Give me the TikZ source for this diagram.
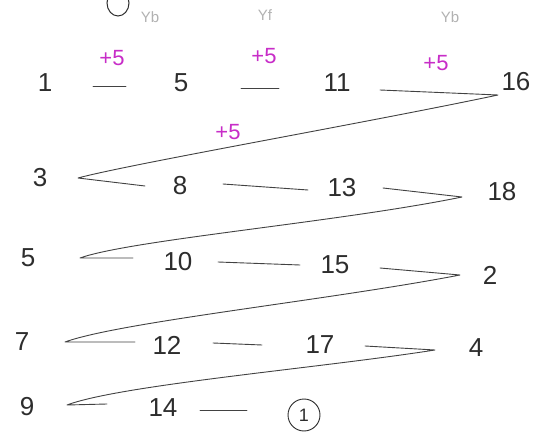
\documentclass[tikz,border=0pt]{standalone}
\usepackage{fontspec}
\setmainfont{Liberation Sans}
\definecolor{ink}{RGB}{45,45,45}
\definecolor{mag}{RGB}{200,45,200}
\begin{document}
\begin{tikzpicture}[x=1pt,y=-1pt,
  num/.style={font=\fontsize{26}{26}\selectfont, text=ink, inner sep=0pt},
  plus/.style={font=\fontsize{22}{22}\selectfont, text=mag, inner sep=0pt},
  faint/.style={font=\fontsize{15}{15}\selectfont, text=black!30, inner sep=0pt},
  link/.style={draw=ink!90, line width=0.9pt, line cap=round, line join=round},
  ring/.style={circle, draw=ink, line width=0.9pt, minimum size=32pt, inner sep=0pt, font=\fontsize{18}{18}\selectfont, text=ink}]
\useasboundingbox (0,0) rectangle (547,433);
\fill[white] (0,0) rectangle (547,433);
\clip (0,0) rectangle (547,433);
% partial letter at the top
\draw[ink, line width=1pt] (118,3) ellipse (11 and 13);
% faint labels
\node[faint] (yb1) at (150,17) {Yb};
\node[faint] (yf)  at (265,15) {Yf};
\node[faint] (yb2) at (450,17) {Yb};
% plus labels
\node[plus] (p1) at (112,58) {+5};
\node[plus] (p2) at (264,56) {+5};
\node[plus] (p3) at (436,63) {+5};
\node[plus] (p4) at (228,132) {+5};
% numbers
\node[num] (n1)  at (45,83)  {1};
\node[num] (n6)  at (181,83) {5};
\node[num] (n11) at (337,83) {11};
\node[num] (n16) at (516,82) {16};
\node[num] (n3)  at (40,178) {3};
\node[num] (n8)  at (180,186) {8};
\node[num] (n13) at (342,188) {13};
\node[num] (n18) at (502,192) {18};
\node[num] (n5)  at (28,258) {5};
\node[num] (n10) at (178,262) {10};
\node[num] (n15) at (335,265) {15};
\node[num] (n2)  at (490,275) {2};
\node[num] (n7)  at (22,342) {7};
\node[num] (n12) at (167,345) {12};
\node[num] (n17) at (320,345) {17};
\node[num] (n4)  at (476,348) {4};
\node[num] (n9)  at (27,407) {9};
\node[num] (n14) at (163,408) {14};
\node[ring] (c1) at (304,415) {1};
% line end points
\coordinate (a1) at (93,86);   \coordinate (b1) at (126,86);
\coordinate (a2) at (241,88);  \coordinate (b2) at (279,88);
\coordinate (a3) at (380,90);  \coordinate (v1) at (498,95);
\coordinate (w1) at (78,178);  \coordinate (b4) at (145,186);
\coordinate (a5) at (223,184); \coordinate (b5) at (308,190);
\coordinate (a6) at (383,188); \coordinate (v2) at (462,197);
\coordinate (w2) at (80,258);  \coordinate (b7) at (133,258);
\coordinate (a8) at (218,262); \coordinate (b8) at (300,265);
\coordinate (a9) at (380,268); \coordinate (v3) at (460,275);
\coordinate (w3) at (65,342);  \coordinate (b10) at (135,342);
\coordinate (a11) at (213,343); \coordinate (b11) at (262,345);
\coordinate (a12) at (365,346); \coordinate (v4) at (435,350);
\coordinate (w4) at (67,405);  \coordinate (b13) at (107,404);
\coordinate (a14) at (200,410); \coordinate (b14) at (247,410);
% connectors
\draw[link] (a1) -- (b1);
\draw[link] (a2) -- (b2);
\draw[link] (a3) -- (v1) .. controls (360,124) and (130,164) .. (w1) -- (b4);
\draw[link] (a5) -- (b5);
\draw[link] (a6) -- (v2) .. controls (340,222) and (130,240) .. (w2) -- (b7);
\draw[link] (a8) -- (b8);
\draw[link] (a9) -- (v3) .. controls (330,300) and (120,322) .. (w3) -- (b10);
\draw[link] (a11) -- (b11);
\draw[link] (a12) -- (v4) .. controls (320,368) and (120,385) .. (w4) -- (b13);
\draw[link] (a14) -- (b14);
\end{tikzpicture}
\end{document}
